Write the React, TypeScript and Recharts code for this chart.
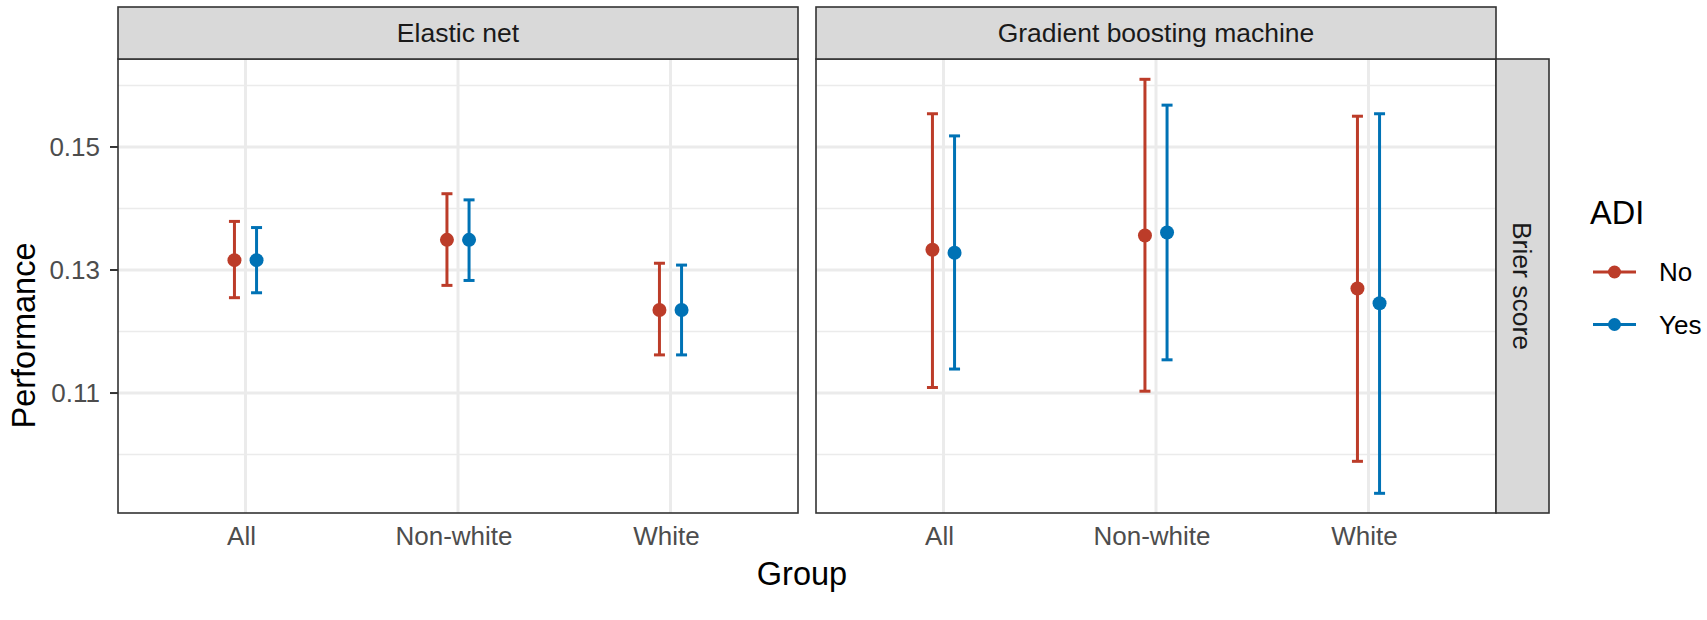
import { ScatterChart, Scatter, XAxis, YAxis, CartesianGrid, ErrorBar } from 'recharts'

const GROUPS = ['All', 'Non-white', 'White']
const MODELS = ['Elastic net', 'Gradient boosting machine']
const METRIC = 'Brier score'
const ADI_LEVELS = ['No', 'Yes']

// Elastic net
const enNoMean = [0.1316, 0.1349, 0.1235]
const enNoLow = [0.1255, 0.1275, 0.1162]
const enNoHigh = [0.1379, 0.1424, 0.1311]
const enYesMean = [0.1316, 0.1349, 0.1235]
const enYesLow = [0.1263, 0.1283, 0.1162]
const enYesHigh = [0.1369, 0.1414, 0.1308]

// Gradient boosting machine
const gbmNoMean = [0.1333, 0.1356, 0.127]
const gbmNoLow = [0.1109, 0.1103, 0.0989]
const gbmNoHigh = [0.1554, 0.161, 0.155]
const gbmYesMean = [0.1328, 0.1361, 0.1246]
const gbmYesLow = [0.1139, 0.1154, 0.0937]
const gbmYesHigh = [0.1518, 0.1568, 0.1554]

const Y_TICKS = [0.11, 0.13, 0.15]
const Y_MINOR = [0.1, 0.12, 0.14, 0.16]
const Y_DOMAIN = [0.0905, 0.1643]
const X_TICKS = [1, 2, 3]

const RED = '#BC3C29'
const BLUE = '#0072B5'
const DODGE = 0.052
const H = 620

type Pt = { x: number; y: number; err: [number, number] }

function buildSeries(mean: number[], low: number[], high: number[], shift: number): Pt[] {
  return mean.map((m, i) => ({ x: i + 1 + shift, y: m, err: [m - low[i]!, high[i]! - m] }))
}

function GroupTick(props: any) {
  const { x, y, payload } = props
  return (
    <text x={x - 4} y={y} dy="0.71em" textAnchor="middle" fill="#4D4D4D" fontSize={26}>
      {GROUPS[payload.value - 1]}
    </text>
  )
}

const dotShape = (color: string) => (p: any) => <circle cx={p.cx} cy={p.cy} r={7} fill={color} />

interface PanelProps {
  no: Pt[]
  yes: Pt[]
  width: number
  left: number
  right: number
  showY: boolean
}

function Panel({ no, yes, width, left, right, showY }: PanelProps) {
  return (
    <ScatterChart width={width} height={H} margin={{ top: 59, right, bottom: 57, left }}>
      <CartesianGrid horizontalValues={Y_MINOR} vertical={false} stroke="#EBEBEB" strokeWidth={1.5} />
      <CartesianGrid horizontalValues={Y_TICKS} verticalValues={X_TICKS} stroke="#EBEBEB" strokeWidth={3} />
      <XAxis
        type="number" dataKey="x" domain={[0.4, 3.6]} ticks={X_TICKS} interval={0}
        axisLine={false} tickLine={false} tickSize={8} tickMargin={6} height={50}
        tick={GroupTick} allowDataOverflow
      />
      <YAxis
        type="number" dataKey="y" domain={Y_DOMAIN} ticks={Y_TICKS} interval={0} hide={!showY} width={60}
        axisLine={false} tickLine={{ stroke: '#333333', strokeWidth: 2 }} tickSize={8} tickMargin={10}
        tick={{ fill: '#4D4D4D', fontSize: 26 }} tickFormatter={(v: number) => v.toFixed(2)} allowDataOverflow
      />
      <Scatter name="No" data={no} fill={RED} shape={dotShape(RED)} isAnimationActive={false}>
        <ErrorBar dataKey="err" direction="y" width={5.5} stroke={RED} strokeWidth={3} isAnimationActive={false} />
      </Scatter>
      <Scatter name="Yes" data={yes} fill={BLUE} shape={dotShape(BLUE)} isAnimationActive={false}>
        <ErrorBar dataKey="err" direction="y" width={5.5} stroke={BLUE} strokeWidth={3} isAnimationActive={false} />
      </Scatter>
    </ScatterChart>
  )
}

export default function App() {
  const enNo = buildSeries(enNoMean, enNoLow, enNoHigh, -DODGE)
  const enYes = buildSeries(enYesMean, enYesLow, enYesHigh, DODGE)
  const gbmNo = buildSeries(gbmNoMean, gbmNoLow, gbmNoHigh, -DODGE)
  const gbmYes = buildSeries(gbmYesMean, gbmYesLow, gbmYesHigh, DODGE)
  const border = { fill: 'none', stroke: '#333333', strokeWidth: 1.6 }
  const strip = { fill: '#D9D9D9', stroke: '#333333', strokeWidth: 1.6 }

  return (
    <div style={{
      position: 'absolute', left: 0, top: 0, width: 1707, height: H, background: '#fff',
      fontFamily: '"Liberation Sans", Arial, sans-serif',
    }}>
      <div style={{ position: 'absolute', left: 0, top: 0 }}>
        <Panel no={enNo} yes={enYes} width={800} left={58} right={2} showY />
      </div>
      <div style={{ position: 'absolute', left: 800, top: 0 }}>
        <Panel no={gbmNo} yes={gbmYes} width={907} left={16} right={211} showY={false} />
      </div>
      <svg width={1707} height={H} style={{ position: 'absolute', left: 0, top: 0, pointerEvents: 'none' }}>
        <rect x={118} y={59} width={680} height={454} {...border} />
        <rect x={816} y={59} width={680} height={454} {...border} />
        <rect x={118} y={7} width={680} height={52} {...strip} />
        <rect x={816} y={7} width={680} height={52} {...strip} />
        <rect x={1496} y={59} width={53} height={454} {...strip} />
        <text x={458} y={33} textAnchor="middle" dominantBaseline="central" fontSize={26.5} fill="#1A1A1A">{MODELS[0]}</text>
        <text x={1156} y={33} textAnchor="middle" dominantBaseline="central" fontSize={26.5} fill="#1A1A1A">{MODELS[1]}</text>
        <text transform="translate(1522,286) rotate(90)" textAnchor="middle" dominantBaseline="central" fontSize={26.5} fill="#1A1A1A">{METRIC}</text>
        <text transform="translate(35,335.5) rotate(-90)" textAnchor="middle" fontSize={32.5} fill="#000">Performance</text>
        <text x={802} y={585} textAnchor="middle" fontSize={32.5} fill="#000">Group</text>
        <text x={1590} y={224} fontSize={32.5} fill="#000">ADI</text>
        {ADI_LEVELS.map((lvl, i) => {
          const cy = 272 + i * 52.5
          const c = i === 0 ? RED : BLUE
          return (
            <g key={lvl}>
              <line x1={1593} x2={1636} y1={cy} y2={cy} stroke={c} strokeWidth={3} />
              <circle cx={1614.5} cy={cy} r={6.5} fill={c} />
              <text x={1659} y={cy} dominantBaseline="central" fontSize={26} fill="#000">{lvl}</text>
            </g>
          )
        })}
      </svg>
    </div>
  )
}
